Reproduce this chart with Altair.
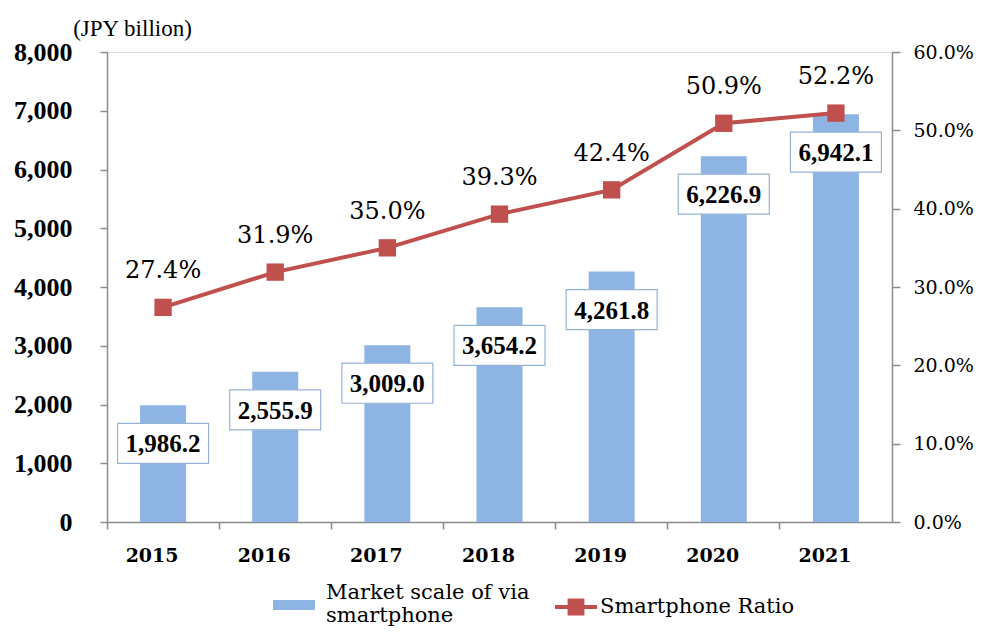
import altair as alt
import pandas as pd

years = ["2015", "2016", "2017", "2018", "2019", "2020", "2021"]
market = [1986.2, 2555.9, 3009.0, 3654.2, 4261.8, 6226.9, 6942.1]
ratio_pct = [27.4, 31.9, 35.0, 39.3, 42.4, 50.9, 52.2]
left_ticks = [0, 1000, 2000, 3000, 4000, 5000, 6000, 7000, 8000]
right_ticks = [0.0, 0.1, 0.2, 0.3, 0.4, 0.5, 0.6]
bar_name = "Market scale of via smartphone"
line_name = "Smartphone Ratio"
unit_title = "(JPY billion)"

df = pd.DataFrame({
    "year": years,
    "market": market,
    "ratio": [r / 100 for r in ratio_pct],
    "bar_series": [bar_name] * len(years),
    "line_series": [line_name] * len(years),
})

BLUE = "#8eb4e3"
RED = "#c0504d"
AX = "#8c8c8c"

xscale = alt.Scale(paddingInner=0.59, paddingOuter=0.295)

x_labels = alt.X("year:N", scale=xscale, sort=years,
                 axis=alt.Axis(orient="bottom", title=None, labelAngle=0, ticks=False,
                               domain=True, domainColor=AX, domainWidth=1.5,
                               labelFont="DejaVu Serif", labelFontWeight="bold",
                               labelFontSize=19, labelColor="black", labelPadding=24,
                               labelOffset=-11))
x_plain = alt.X("year:N", scale=xscale, sort=years)
x_ticks = alt.X("year:N", scale=xscale, sort=years,
                axis=alt.Axis(orient="bottom", title=None, labels=False, ticks=True,
                              tickSize=7, tickColor=AX, tickWidth=1.5, domain=False,
                              bandPosition=-0.718))

y_left = alt.Y("market:Q",
               scale=alt.Scale(domain=[0, 8000], nice=False),
               axis=alt.Axis(orient="left", values=left_ticks, format=",.0f", grid=False,
                             domainColor=AX, domainWidth=1.5, tickColor=AX, tickWidth=1.5,
                             tickSize=7, labelFont="Liberation Serif", labelFontWeight="bold",
                             labelFontSize=26, labelColor="black", labelPadding=28,
                             title=unit_title, titleAngle=0, titleX=25, titleY=-24,
                             titleAlign="center", titleBaseline="middle",
                             titleFont="Liberation Serif", titleFontWeight="normal",
                             titleFontSize=23, titleColor="black"))
y_left_plain = alt.Y("market:Q")

y_right = alt.Y("ratio:Q",
                scale=alt.Scale(domain=[0, 0.6], nice=False),
                axis=alt.Axis(orient="right", values=right_ticks, format=".1%", grid=False,
                              domainColor=AX, domainWidth=1.5, tickColor=AX, tickWidth=1.5,
                              tickSize=8, labelFont="DejaVu Serif", labelFontSize=19,
                              labelColor="black", labelPadding=13, title=None))
y_right_plain = alt.Y("ratio:Q")

box_path = "M-1,-0.44H1V0.44H-1Z"
legend_bar_path = "M-1,0.33H1V0.81H-1Z"
legend_line_path = "M-1,-0.1H-0.4V-0.4H0.4V-0.1H1V0.1H0.4V0.4H-0.4V0.1H-1Z"

bars = alt.Chart(df).mark_bar().encode(
    x=x_labels,
    y=y_left,
    fill=alt.Fill("bar_series:N",
                  scale=alt.Scale(domain=[bar_name], range=[BLUE]),
                  legend=alt.Legend(orient="none", legendX=166, legendY=520, title=None,
                                    padding=0, symbolType=legend_bar_path, symbolSize=1764,
                                    symbolStrokeWidth=0, labelFont="DejaVu Serif",
                                    labelFontSize=21, labelColor="black", labelOffset=11,
                                    labelLimit=400,
                                    labelExpr="datum.label == 'Market scale of via smartphone' ? ['Market scale of via', 'smartphone'] : datum.label")),
)

boxes = alt.Chart(df).mark_point(
    shape=box_path, size=8281, filled=True, fill="white", stroke="#95b3d7",
    strokeWidth=1.2, opacity=1, yOffset=38,
).encode(x=x_plain, y=y_left_plain)

bar_text = alt.Chart(df).mark_text(
    font="Liberation Serif", fontWeight="bold", fontSize=25, color="black",
    baseline="middle", align="center", dy=39,
).encode(x=x_plain, y=y_left_plain, text=alt.Text("market:Q", format=",.1f"))

left = alt.layer(bars, boxes, bar_text)

line = alt.Chart(df).mark_line(color=RED, strokeWidth=4).encode(x=x_ticks, y=y_right)

points = alt.Chart(df).mark_point(
    shape="square", size=300, filled=True, opacity=1,
).encode(
    x=x_plain, y=y_right_plain,
    color=alt.Color("line_series:N",
                    scale=alt.Scale(domain=[line_name], range=[RED]),
                    legend=alt.Legend(orient="none", legendX=448, legendY=534, title=None,
                                      padding=0, symbolType=legend_line_path, symbolSize=1764,
                                      symbolStrokeWidth=0, symbolFillColor=RED,
                                      labelFont="DejaVu Serif", labelFontSize=21,
                                      labelColor="black", labelOffset=3, labelLimit=400)),
)

pct_text = alt.Chart(df).mark_text(
    font="DejaVu Serif", fontSize=24, color="black", baseline="middle",
    align="center", dy=-36,
).encode(x=x_plain, y=y_right_plain, text=alt.Text("ratio:Q", format=".1%"))

right = alt.layer(line, points, pct_text)

chart = alt.layer(left, right).resolve_scale(
    y="independent"
).resolve_axis(
    x="independent", y="independent"
).properties(
    width=785, height=470,
    autosize=alt.AutoSizeParams(type="none"),
    padding={"left": 99, "top": 44, "right": 83, "bottom": 104},
).configure_view(stroke=None).configure(background="white")

chart.save("out.html", embed_options={"renderer": "svg", "actions": False})
